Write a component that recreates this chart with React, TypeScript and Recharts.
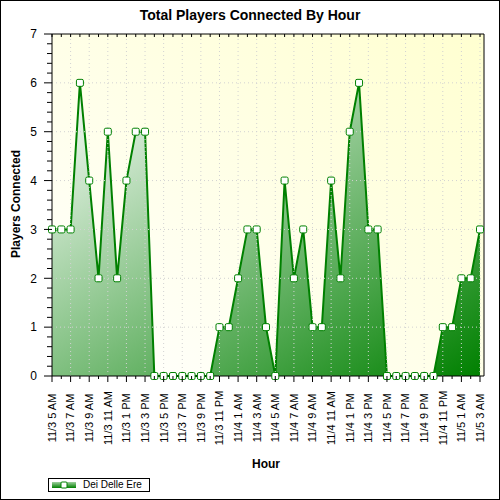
import { Area, AreaChart, CartesianGrid, ReferenceLine, XAxis, YAxis } from "recharts";

const hourLabels = [
  "11/3 5 AM", "11/3 6 AM", "11/3 7 AM", "11/3 8 AM", "11/3 9 AM", "11/3 10 AM",
  "11/3 11 AM", "11/3 12 PM", "11/3 1 PM", "11/3 2 PM", "11/3 3 PM", "11/3 4 PM",
  "11/3 5 PM", "11/3 6 PM", "11/3 7 PM", "11/3 8 PM", "11/3 9 PM", "11/3 10 PM",
  "11/3 11 PM", "11/4 12 AM", "11/4 1 AM", "11/4 2 AM", "11/4 3 AM", "11/4 4 AM",
  "11/4 5 AM", "11/4 6 AM", "11/4 7 AM", "11/4 8 AM", "11/4 9 AM", "11/4 10 AM",
  "11/4 11 AM", "11/4 12 PM", "11/4 1 PM", "11/4 2 PM", "11/4 3 PM", "11/4 4 PM",
  "11/4 5 PM", "11/4 6 PM", "11/4 7 PM", "11/4 8 PM", "11/4 9 PM", "11/4 10 PM",
  "11/4 11 PM", "11/5 12 AM", "11/5 1 AM", "11/5 2 AM", "11/5 3 AM",
];

const playersConnected = [
  3, 3, 3, 6, 4, 2, 5, 2, 4, 5, 5, 0,
  0, 0, 0, 0, 0, 0, 1, 1, 2, 3, 3, 1,
  0, 4, 2, 3, 1, 1, 4, 2, 5, 6, 3, 3,
  0, 0, 0, 0, 0, 0, 1, 1, 2, 2, 3,
];

const yLabels = [0, 1, 2, 3, 4, 5, 6, 7];
const seriesName = "Dei Delle Ere";

// minor ticks every 0.2
const yTicks: number[] = [];
for (let k = 0; k <= 35; k++) yTicks.push(k / 5);

const rows = hourLabels.map((hour, i) => ({ hour, players: playersConnected[i] }));

const GREEN = "#008000";
const GRID = "#d2d2d2";
const FONT = "Arial, 'Liberation Sans', sans-serif";

function BottomTick({ x, y, payload }: any) {
  const i = hourLabels.indexOf(payload.value);
  const major = i % 2 === 0;
  return (
    <g>
      <line x1={x} x2={x} y1={y} y2={y + (major ? 6 : 3)} stroke="#000" />
      {major && (
        <text
          transform={`translate(${x},${y + 42}) rotate(-90)`}
          textAnchor="middle"
          dy="0.35em"
          fontSize={11}
          fontFamily={FONT}
          fill="#000"
        >
          {payload.value}
        </text>
      )}
    </g>
  );
}

function TopTick({ x, y }: any) {
  return <line x1={x} x2={x} y1={y} y2={y + 3} stroke="#000" />;
}

function LeftTick({ x, y, payload }: any) {
  const major = Number.isInteger(payload.value);
  return (
    <g>
      <line x1={x - (major ? 8 : 5)} x2={x} y1={y} y2={y} stroke="#000" />
      {major && (
        <text x={x - 15} y={y} dy="0.36em" textAnchor="end" fontSize={12} fontFamily={FONT} fill="#000">
          {payload.value}
        </text>
      )}
    </g>
  );
}

function RightTick({ x, y, payload }: any) {
  const major = Number.isInteger(payload.value);
  return <line x1={x - 3} x2={x + (major ? 3 : 0)} y1={y} y2={y} stroke="#000" />;
}

function SquareDot({ cx, cy }: any) {
  if (cx == null || cy == null) return null;
  return (
    <rect x={cx - 3.5} y={cy - 3.5} width={7} height={7} rx={1.5} fill="#fff" stroke={GREEN} strokeWidth={1} />
  );
}

export default function App() {
  return (
    <div style={{ position: "absolute", left: 0, top: 0, width: 500, height: 500, background: "#fff", fontFamily: FONT }}>
      <AreaChart width={500} height={500} data={rows} margin={{ top: 0, right: 0, bottom: 0, left: 0 }}>
        <defs>
          <linearGradient id="bgGrad" x1="1" y1="0" x2="0" y2="1">
            <stop offset="0%" stopColor="#ffffd0" />
            <stop offset="100%" stopColor="#ffffff" />
          </linearGradient>
          <linearGradient id="areaGrad" x1="0" y1="0" x2="1" y2="1">
            <stop offset="0%" stopColor="#ffffff" />
            <stop offset="100%" stopColor={GREEN} />
          </linearGradient>
        </defs>
        <CartesianGrid horizontal={false} vertical={false} fill="url(#bgGrad)" stroke="none" />
        <XAxis
          dataKey="hour"
          height={124}
          interval={0}
          padding={{ left: 0, right: 4 }}
          tickSize={0}
          tickMargin={0}
          tickLine={false}
          tick={<BottomTick />}
          axisLine={{ stroke: "#000" }}
        />
        <XAxis
          xAxisId="top"
          dataKey="hour"
          orientation="top"
          height={34}
          interval={0}
          padding={{ left: 0, right: 4 }}
          tickSize={0}
          tickMargin={0}
          tickLine={false}
          tick={<TopTick />}
          axisLine={{ stroke: "#000" }}
        />
        <YAxis
          width={52}
          type="number"
          domain={[0, 7]}
          ticks={yTicks}
          interval={0}
          tickSize={0}
          tickMargin={0}
          tickLine={false}
          tick={<LeftTick />}
          axisLine={{ stroke: "#000" }}
        />
        <YAxis
          yAxisId="right"
          orientation="right"
          width={16}
          type="number"
          domain={[0, 7]}
          ticks={yTicks}
          interval={0}
          tickSize={0}
          tickMargin={0}
          tickLine={false}
          tick={<RightTick />}
          axisLine={{ stroke: "#000" }}
        />
        {yLabels.slice(1, -1).map((v) => (
          <ReferenceLine key={`y${v}`} y={v} stroke={GRID} strokeDasharray="1 3" />
        ))}
        {hourLabels
          .filter((_, i) => i % 2 === 0 && i > 0)
          .map((h) => (
            <ReferenceLine key={h} x={h} stroke={GRID} strokeDasharray="1 3" />
          ))}
        <Area
          type="linear"
          dataKey="players"
          name={seriesName}
          stroke={GREEN}
          strokeWidth={2}
          fill="url(#areaGrad)"
          fillOpacity={1}
          dot={<SquareDot />}
          activeDot={false}
          isAnimationActive={false}
        />
      </AreaChart>

      <div style={{ position: "absolute", left: 0, top: 7, width: 500, textAlign: "center", fontSize: 14, fontWeight: "bold", color: "#000" }}>
        Total Players Connected By Hour
      </div>
      <div
        style={{
          position: "absolute",
          left: 16,
          top: 204,
          transform: "translate(-50%, -50%) rotate(-90deg)",
          whiteSpace: "nowrap",
          fontSize: 12,
          fontWeight: "bold",
          color: "#000",
        }}
      >
        Players Connected
      </div>
      <div style={{ position: "absolute", left: 216, top: 457, width: 100, textAlign: "center", fontSize: 12, fontWeight: "bold", color: "#000" }}>
        Hour
      </div>
      <div
        style={{
          position: "absolute",
          left: 48,
          top: 478,
          width: 100,
          height: 12,
          border: "1px solid #000",
          display: "flex",
          alignItems: "center",
          fontSize: 10,
          color: "#000",
        }}
      >
        <svg width={26} height={12} style={{ marginLeft: 2 }}>
          <defs>
            <linearGradient id="legGrad" x1="0" y1="0" x2="0" y2="1">
              <stop offset="0%" stopColor="#9fd09f" />
              <stop offset="100%" stopColor={GREEN} />
            </linearGradient>
          </defs>
          <rect x={1} y={3} width={24} height={6} fill="url(#legGrad)" />
          <rect x={10} y={3} width={6} height={6} rx={1} fill="#fff" stroke={GREEN} />
        </svg>
        <span style={{ marginLeft: 6, lineHeight: "12px" }}>{seriesName}</span>
      </div>
      <div style={{ position: "absolute", left: 0, top: 0, width: 500, height: 500, boxSizing: "border-box", border: "1px solid #000", pointerEvents: "none" }} />
    </div>
  );
}
